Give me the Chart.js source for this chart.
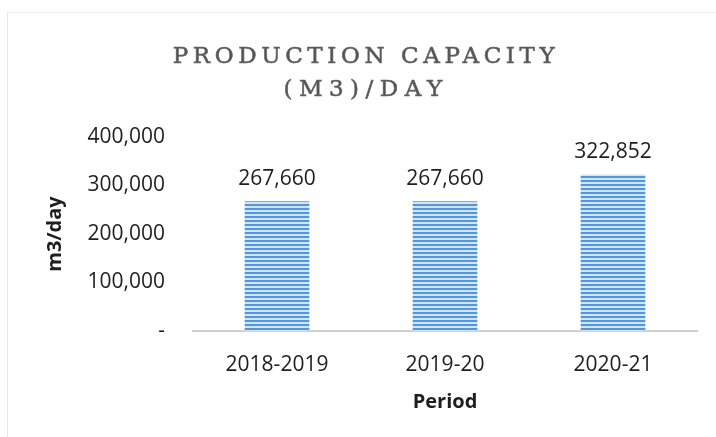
<!DOCTYPE html>
<html>
<head>
<meta charset="utf-8">
<script src="https://cdn.jsdelivr.net/npm/chart.js@4.4.1/dist/chart.umd.min.js"></script>
<style>
  html, body { margin: 0; padding: 0; background: #fff; }
  #wrap { position: relative; width: 716px; height: 437px; }
  #frame { position: absolute; left: 7px; top: 12px; right: 0; bottom: 0; border-left: 1px solid #e6e6e6; border-top: 1px solid #eeeeee; }
  #title {
    position: absolute; left: 0; width: 732px; top: 39px; text-align: center;
    font-family: "DejaVu Serif", serif; font-size: 23px; line-height: 33px;
    color: #555; -webkit-text-stroke: 0.6px #666;
  }
  #title span { display: block; }
  #t1 { letter-spacing: 4.6px; }
  #t2 { letter-spacing: 6.5px; }
</style>
</head>
<body>
<div id="wrap">
  <div id="frame"></div>
  <canvas id="capacityChart" width="716" height="437"></canvas>
  <div id="title"><span id="t1">PRODUCTION CAPACITY</span><span id="t2">(M3)/DAY</span></div>
</div>
<script>
const periods = ["2018-2019", "2019-20", "2020-21"];
const capacity = [267660, 267660, 322852];
const yTicks = [0, 100000, 200000, 300000, 400000];

const fmt = (v) => (v === 0 ? "-" : v.toLocaleString("en-US"));

// striped fill like the scanned excel bars
function stripes() {
  const c = document.createElement("canvas");
  c.width = 8;
  c.height = 4;
  const g = c.getContext("2d");
  g.fillStyle = "#d3e4f6";
  g.fillRect(0, 0, 8, 4);
  g.fillStyle = "#4f97de";
  g.fillRect(0, 0, 8, 2);
  return g.createPattern(c, "repeat");
}

const valueLabels = {
  id: "valueLabels",
  afterDatasetsDraw(chart) {
    const ctx = chart.ctx;
    const meta = chart.getDatasetMeta(0);
    ctx.save();
    ctx.font = '21px "Open Sans"';
    ctx.fillStyle = "#1e1e1e";
    ctx.textAlign = "center";
    ctx.textBaseline = "bottom";
    meta.data.forEach((bar, i) => {
      ctx.fillText(fmt(capacity[i]), bar.x, bar.y - 12);
    });
    ctx.restore();
  },
};

new Chart(document.getElementById("capacityChart"), {
  type: "bar",
  data: {
    labels: periods,
    datasets: [
      {
        data: capacity,
        backgroundColor: stripes(),
        borderWidth: 0,
        categoryPercentage: 1,
        barPercentage: 0.385,
      },
    ],
  },
  options: {
    responsive: false,
    animation: false,
    layout: { padding: { top: 137, right: 19, bottom: 10, left: 0 } },
    plugins: {
      legend: { display: false },
      tooltip: { enabled: false },
    },
    scales: {
      x: {
        grid: { display: false, drawTicks: false },
        border: { display: true, color: "#cfcfcf", width: 2 },
        ticks: { color: "#1e1e1e", font: { family: "Open Sans", size: 21 }, padding: 21 },
        title: {
          display: true,
          text: "Period",
          color: "#1e1e1e",
          font: { family: "Open Sans", size: 20, weight: "bold" },
          padding: { top: 8, bottom: 13 },
        },
        afterFit: (s) => { s.height = 437 - 331 - 10; },
      },
      y: {
        min: 0,
        max: 400000,
        afterBuildTicks: (s) => { s.ticks = yTicks.map((v) => ({ value: v })); },
        grid: { display: false, drawTicks: false },
        border: { display: false },
        ticks: { color: "#1e1e1e", font: { family: "Open Sans", size: 21 }, padding: 28, callback: fmt },
        title: {
          display: true,
          text: "m3/day",
          color: "#1e1e1e",
          font: { family: "Open Sans", size: 20, weight: "bold" },
          padding: { top: 43, bottom: 0 },
        },
        afterFit: (s) => { s.width = 193; },
      },
    },
  },
  plugins: [valueLabels],
});
</script>
</body>
</html>
